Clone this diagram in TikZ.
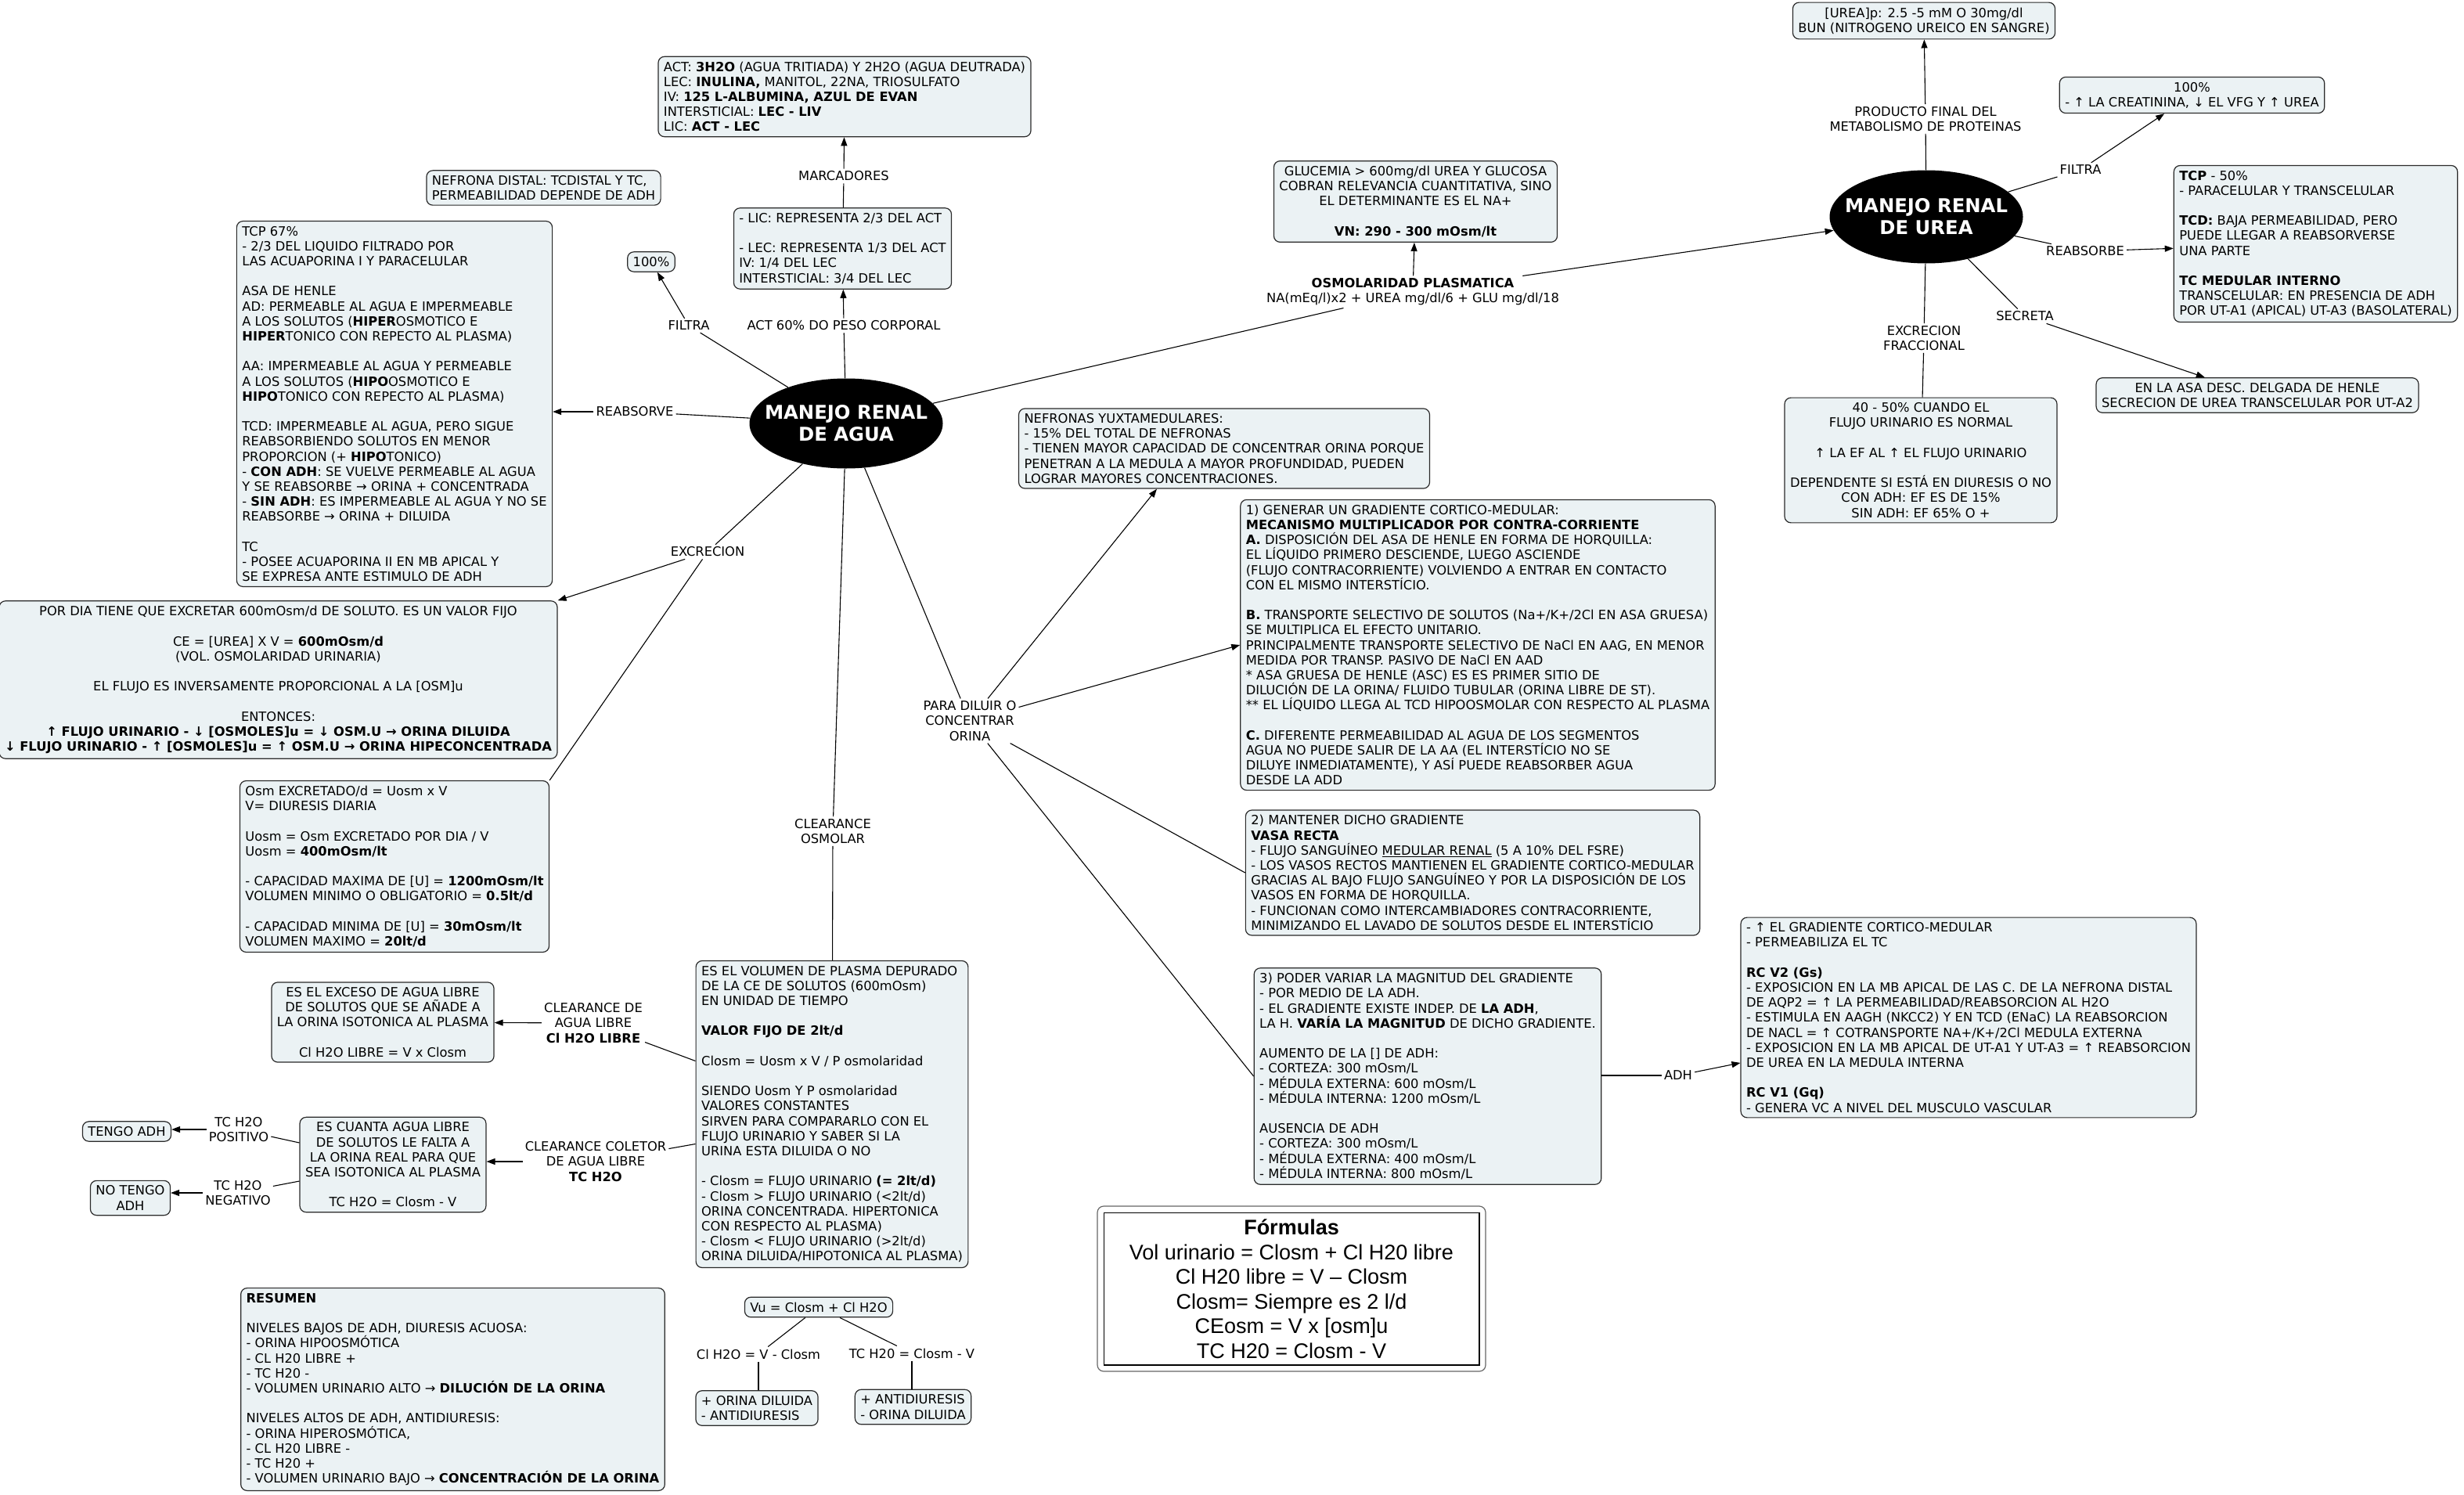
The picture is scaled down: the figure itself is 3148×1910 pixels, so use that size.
\documentclass[tikz,border=0pt]{standalone}
\usepackage{fontspec}
\setmainfont{DejaVu Sans}
\newfontfamily\arialf{Liberation Sans}
\usetikzlibrary{arrows.meta,shapes.geometric,calc}
\definecolor{boxfill}{HTML}{EBF2F4}
\definecolor{edgec}{HTML}{2A2A2A}
\newcommand\myfs{\fontsize{16.3}{19.2}\selectfont}
\newcommand\mybfs{\fontsize{24.3}{28}\selectfont\bfseries}
\tikzset{
 box/.style={draw=edgec, line width=1.2pt, rounded corners=8pt, fill=boxfill, inner xsep=7pt, inner ysep=6.5pt, font=\myfs},
 boxl/.style={box, align=left},
 boxc/.style={box, align=center},
 lab/.style={font=\myfs, align=center, inner sep=3pt},
 ln/.style={line width=1.1pt, draw=black},
 arr/.style={ln, -{Triangle[length=11pt,width=8pt]}},
 bubble/.style={ellipse, fill=black, minimum width=247pt, minimum height=115pt, inner sep=0pt},
 bubtext/.style={text=white, font=\mybfs, align=center, inner sep=0pt},
}
\begin{document}
\begin{tikzpicture}[x=1pt,y=-1pt]
\fill[white] (0,0) rectangle (3148,1910);
\useasboundingbox (0,0) rectangle (3148,1910);

% ---------- central nodes ----------
\node[bubble] (agua) at (1081,541) {};
\node[bubtext] (aguat) at (agua) {MANEJO RENAL\\DE AGUA};
\node[bubble, minimum height=119pt] (urea) at (2461,277) {};
\node[bubtext] (ureat) at (urea) {MANEJO RENAL\\DE UREA};

% ---------- left / top boxes ----------
\node[boxl] (act) at (1079,123.5) {ACT: \textbf{3H2O} (AGUA TRITIADA) Y 2H2O (AGUA DEUTRADA)\\
LEC: \textbf{INULINA,} MANITOL, 22NA, TRIOSULFATO\\
IV: \textbf{125 L-ALBUMINA, AZUL DE EVAN}\\
INTERSTICIAL: \textbf{LEC - LIV}\\
LIC: \textbf{ACT - LEC}};

\node[boxl] (lic) at (1076.5,317.5) {- LIC: REPRESENTA 2/3 DEL ACT\\~\\- LEC: REPRESENTA 1/3 DEL ACT\\IV: 1/4 DEL LEC\\INTERSTICIAL: 3/4 DEL LEC};

\node[boxl] (nefd) at (694.5,240) {NEFRONA DISTAL: TCDISTAL Y TC,\\PERMEABILIDAD DEPENDE DE ADH};

\node[boxc] (cien) at (832,334.5) {100\%};

\node[boxl] (tcp) at (504,516) {TCP 67\%\\
- 2/3 DEL LIQUIDO FILTRADO POR\\
LAS ACUAPORINA I Y PARACELULAR\\~\\
ASA DE HENLE\\
AD: PERMEABLE AL AGUA E IMPERMEABLE\\
A LOS SOLUTOS (\textbf{HIPER}OSMOTICO E\\
\textbf{HIPER}TONICO CON REPECTO AL PLASMA)\\~\\
AA: IMPERMEABLE AL AGUA Y PERMEABLE\\
A LOS SOLUTOS (\textbf{HIPO}OSMOTICO E\\
\textbf{HIPO}TONICO CON REPECTO AL PLASMA)\\~\\
TCD: IMPERMEABLE AL AGUA, PERO SIGUE\\
REABSORBIENDO SOLUTOS EN MENOR\\
PROPORCION (+ \textbf{HIPO}TONICO)\\
- \textbf{CON ADH}: SE VUELVE PERMEABLE AL AGUA\\
Y SE REABSORBE → ORINA + CONCENTRADA\\
- \textbf{SIN ADH}: ES IMPERMEABLE AL AGUA Y NO SE\\
REABSORBE → ORINA + DILUIDA\\~\\
TC\\
- POSEE ACUAPORINA II EN MB APICAL Y\\
SE EXPRESA ANTE ESTIMULO DE ADH};

\node[boxc] (pordia) at (355.5,868.5) {POR DIA TIENE QUE EXCRETAR 600mOsm/d DE SOLUTO. ES UN VALOR FIJO\\~\\
CE = [UREA] X V = \textbf{600mOsm/d}\\
(VOL. OSMOLARIDAD URINARIA)\\~\\
EL FLUJO ES INVERSAMENTE PROPORCIONAL A LA [OSM]u\\~\\
ENTONCES:\\
\textbf{↑ FLUJO URINARIO - ↓ [OSMOLES]u = ↓ OSM.U → ORINA DILUIDA}\\
\textbf{↓ FLUJO URINARIO - ↑ [OSMOLES]u = ↑ OSM.U → ORINA HIPECONCENTRADA}};

\node[boxl] (osm) at (504,1107) {Osm EXCRETADO/d = Uosm x V\\
V= DIURESIS DIARIA\\~\\
Uosm = Osm EXCRETADO POR DIA / V\\
Uosm = \textbf{400mOsm/lt}\\~\\
- CAPACIDAD MAXIMA DE [U] = \textbf{1200mOsm/lt}\\
VOLUMEN MINIMO O OBLIGATORIO = \textbf{0.5lt/d}\\~\\
- CAPACIDAD MINIMA DE [U] = \textbf{30mOsm/lt}\\
VOLUMEN MAXIMO = \textbf{20lt/d}};

\node[boxc] (exceso) at (489,1306) {ES EL EXCESO DE AGUA LIBRE\\
DE SOLUTOS QUE SE AÑADE A\\
LA ORINA ISOTONICA AL PLASMA\\~\\
Cl H2O LIBRE = V x Closm};

\node[boxc] (cuanta) at (502,1488) {ES CUANTA AGUA LIBRE\\
DE SOLUTOS LE FALTA A\\
LA ORINA REAL PARA QUE\\
SEA ISOTONICA AL PLASMA\\~\\
TC H2O = Closm - V};

\node[boxc] (tengo) at (162,1445.5) {TENGO ADH};
\node[boxc] (notengo) at (166.5,1530.5) {NO TENGO\\ADH};

\node[boxl] (volumen) at (1063,1423.5) {ES EL VOLUMEN DE PLASMA DEPURADO\\
DE LA CE DE SOLUTOS (600mOsm)\\
EN UNIDAD DE TIEMPO\\~\\
\textbf{VALOR FIJO DE 2lt/d}\\~\\
Closm = Uosm x V / P osmolaridad\\~\\
SIENDO Uosm Y P osmolaridad\\
VALORES CONSTANTES\\
SIRVEN PARA COMPARARLO CON EL\\
FLUJO URINARIO Y SABER SI LA\\
URINA ESTA DILUIDA O NO\\~\\
- Closm = FLUJO URINARIO \textbf{(= 2lt/d)}\\
- Closm > FLUJO URINARIO (<2lt/d)\\
ORINA CONCENTRADA. HIPERTONICA\\
CON RESPECTO AL PLASMA)\\
- Closm < FLUJO URINARIO (>2lt/d)\\
ORINA DILUIDA/HIPOTONICA AL PLASMA)};

\node[boxl] (resumen) at (578.5,1775) {\textbf{RESUMEN}\\~\\
NIVELES BAJOS DE ADH, DIURESIS ACUOSA:\\
- ORINA HIPOOSMÓTICA\\
- CL H20 LIBRE +\\
- TC H20 -\\
- VOLUMEN URINARIO ALTO → \textbf{DILUCIÓN DE LA ORINA}\\~\\
NIVELES ALTOS DE ADH, ANTIDIURESIS:\\
- ORINA HIPEROSMÓTICA,\\
- CL H20 LIBRE -\\
- TC H20 +\\
- VOLUMEN URINARIO BAJO → \textbf{CONCENTRACIÓN DE LA ORINA}};

\node[boxc] (vu) at (1046,1670) {Vu = Closm + Cl H2O};
\node[boxl] (dil) at (967,1799) {+ ORINA DILUIDA\\- ANTIDIURESIS};
\node[boxl] (anti) at (1166.5,1797.5) {+ ANTIDIURESIS\\- ORINA DILUIDA};

% formulas
\node[draw=black!60, line width=1.2pt, rounded corners=8pt, fill=white, minimum width=496pt, minimum height=211pt, inner sep=0pt] (form) at (1650,1646.5) {};
\draw[line width=1.8pt, black] ([shift={(9pt,9pt)}]form.south west) rectangle ([shift={(-9pt,-9pt)}]form.north east);
\node[align=center, font=\arialf\fontsize{27}{31.5}\selectfont, inner sep=0pt] (formt) at (form) {\textbf{Fórmulas}\\
Vol urinario = Closm + Cl H20 libre\\
Cl H20 libre = V – Closm\\
Closm= Siempre es 2 l/d\\
CEosm = V x [osm]u\\
TC H20 = Closm - V};

% ---------- middle boxes ----------
\node[boxl] (yuxta) at (1564,573) {NEFRONAS YUXTAMEDULARES:\\
- 15\% DEL TOTAL DE NEFRONAS\\
- TIENEN MAYOR CAPACIDAD DE CONCENTRAR ORINA PORQUE\\
PENETRAN A LA MEDULA A MAYOR PROFUNDIDAD, PUEDEN\\
LOGRAR MAYORES CONCENTRACIONES.};

\node[boxl] (generar) at (1888,824) {1) GENERAR UN GRADIENTE CORTICO-MEDULAR:\\
\textbf{MECANISMO MULTIPLICADOR POR CONTRA-CORRIENTE}\\
\textbf{A.} DISPOSICIÓN DEL ASA DE HENLE EN FORMA DE HORQUILLA:\\
EL LÍQUIDO PRIMERO DESCIENDE, LUEGO ASCIENDE\\
(FLUJO CONTRACORRIENTE) VOLVIENDO A ENTRAR EN CONTACTO\\
CON EL MISMO INTERSTÍCIO.\\~\\
\textbf{B.} TRANSPORTE SELECTIVO DE SOLUTOS (Na+/K+/2Cl EN ASA GRUESA)\\
SE MULTIPLICA EL EFECTO UNITARIO.\\
PRINCIPALMENTE TRANSPORTE SELECTIVO DE NaCl EN AAG, EN MENOR\\
MEDIDA POR TRANSP. PASIVO DE NaCl EN AAD\\
{}* ASA GRUESA DE HENLE (ASC) ES ES PRIMER SITIO DE\\
DILUCIÓN DE LA ORINA/ FLUIDO TUBULAR (ORINA LIBRE DE ST).\\
{}** EL LÍQUIDO LLEGA AL TCD HIPOOSMOLAR CON RESPECTO AL PLASMA\\~\\
\textbf{C.} DIFERENTE PERMEABILIDAD AL AGUA DE LOS SEGMENTOS\\
AGUA NO PUEDE SALIR DE LA AA (EL INTERSTÍCIO NO SE\\
DILUYE INMEDIATAMENTE), Y ASÍ PUEDE REABSORBER AGUA\\
DESDE LA ADD};

\node[boxl] (mantener) at (1881.5,1115) {2) MANTENER DICHO GRADIENTE\\
\textbf{VASA RECTA}\\
- FLUJO SANGUÍNEO \underline{MEDULAR RENAL} (5 A 10\% DEL FSRE)\\
- LOS VASOS RECTOS MANTIENEN EL GRADIENTE CORTICO-MEDULAR\\
GRACIAS AL BAJO FLUJO SANGUÍNEO Y POR LA DISPOSICIÓN DE LOS\\
VASOS EN FORMA DE HORQUILLA.\\
- FUNCIONAN COMO INTERCAMBIADORES CONTRACORRIENTE,\\
MINIMIZANDO EL LAVADO DE SOLUTOS DESDE EL INTERSTÍCIO};

\node[boxl] (poder) at (1824,1375) {3) PODER VARIAR LA MAGNITUD DEL GRADIENTE\\
- POR MEDIO DE LA ADH.\\
- EL GRADIENTE EXISTE INDEP. DE \textbf{LA ADH},\\
LA H. \textbf{VARÍA LA MAGNITUD} DE DICHO GRADIENTE.\\~\\
AUMENTO DE LA [] DE ADH:\\
- CORTEZA: 300 mOsm/L\\
- MÉDULA EXTERNA: 600 mOsm/L\\
- MÉDULA INTERNA: 1200 mOsm/L\\~\\
AUSENCIA DE ADH\\
- CORTEZA: 300 mOsm/L\\
- MÉDULA EXTERNA: 400 mOsm/L\\
- MÉDULA INTERNA: 800 mOsm/L};

\node[boxl] (adhbox) at (2515,1300) {- ↑ EL GRADIENTE CORTICO-MEDULAR\\
- PERMEABILIZA EL TC\\~\\
\textbf{RC V2 (Gs)}\\
- EXPOSICION EN LA MB APICAL DE LAS C. DE LA NEFRONA DISTAL\\
DE AQP2 = ↑ LA PERMEABILIDAD/REABSORCION AL H2O\\
- ESTIMULA EN AAGH (NKCC2) Y EN TCD (ENaC) LA REABSORCION\\
DE NACL = ↑ COTRANSPORTE NA+/K+/2Cl MEDULA EXTERNA\\
- EXPOSICION EN LA MB APICAL DE UT-A1 Y UT-A3 = ↑ REABSORCION\\
DE UREA EN LA MEDULA INTERNA\\~\\
\textbf{RC V1 (Gq)}\\
- GENERA VC A NIVEL DEL MUSCULO VASCULAR};

% ---------- right boxes ----------
\node[boxc] (gluc) at (1808.5,257.5) {GLUCEMIA > 600mg/dl UREA Y GLUCOSA\\
COBRAN RELEVANCIA CUANTITATIVA, SINO\\
EL DETERMINANTE ES EL NA+\\~\\
\textbf{VN: 290 - 300 mOsm/lt}};

\node[boxc] (ureap) at (2458,26.5) {[UREA]p: 2.5 -5 mM O 30mg/dl\\BUN (NITROGENO UREICO EN SANGRE)};

\node[boxc] (creat) at (2800.5,121.5) {100\%\\- ↑ LA CREATININA, ↓ EL VFG Y ↑ UREA};

\node[boxl] (tcpc) at (2958.5,311.5) {\textbf{TCP} - 50\%\\
- PARACELULAR Y TRANSCELULAR\\~\\
\textbf{TCD:} BAJA PERMEABILIDAD, PERO\\
PUEDE LLEGAR A REABSORVERSE\\
UNA PARTE\\~\\
\textbf{TC MEDULAR INTERNO}\\
TRANSCELULAR: EN PRESENCIA DE ADH\\
POR UT-A1 (APICAL) UT-A3 (BASOLATERAL)};

\node[boxc] (asa) at (2884,505) {EN LA ASA DESC. DELGADA DE HENLE\\SECRECION DE UREA TRANSCELULAR POR UT-A2};

\node[boxc] (efbox) at (2454,588) {40 - 50\% CUANDO EL\\
FLUJO URINARIO ES NORMAL\\~\\
↑ LA EF AL ↑ EL FLUJO URINARIO\\~\\
DEPENDENTE SI ESTÁ EN DIURESIS O NO\\
CON ADH: EF ES DE 15\%\\
SIN ADH: EF 65\% O +};

% ---------- labels ----------
\node[lab] (lfiltra) at (880,416) {FILTRA};
\node[lab] (lact) at (1078,416) {ACT 60\% DO PESO CORPORAL};
\node[lab] (lmarc) at (1078,225) {MARCADORES};
\node[lab] (lreab) at (811,526) {REABSORVE};
\node[lab] (lexc) at (904,705) {EXCRECION};
\node[lab] (lclos) at (1064,1062) {CLEARANCE\\OSMOLAR};
\node[lab] (lpd) at (1239,921) {PARA DILUIR O\\CONCENTRAR\\ORINA};
\node[lab] (lclh) at (758,1307) {CLEARANCE DE\\AGUA LIBRE\\\textbf{Cl H2O LIBRE}};
\node[lab] (ltcc) at (761,1484) {CLEARANCE COLETOR\\DE AGUA LIBRE\\\textbf{TC H2O}};
\node[lab] (ltcp) at (305,1443) {TC H2O\\POSITIVO};
\node[lab] (ltcn) at (304,1524) {TC H2O\\NEGATIVO};
\node[lab] (lcl) at (969,1730) {Cl H2O = V - Closm};
\node[lab] (ltc) at (1165,1729) {TC H20 = Closm - V};
\node[lab] (losm) at (1805,373) {\textbf{OSMOLARIDAD PLASMATICA}\\NA(mEq/l)x2 + UREA mg/dl/6 + GLU mg/dl/18};
\node[lab] (lprod) at (2460,152) {PRODUCTO FINAL DEL\\METABOLISMO DE PROTEINAS};
\node[lab] (lfil2) at (2658,217) {FILTRA};
\node[lab] (lreab2) at (2664,321) {REABSORBE};
\node[lab] (lsec) at (2587,404) {SECRETA};
\node[lab] (lef) at (2458,432) {EXCRECION\\FRACCIONAL};
\node[lab] (ladh) at (2144,1374) {ADH};

% ---------- connectors ----------
\draw[ln] (agua) -- (lact);
\draw[arr] (lact) -- (lic);
\draw[ln] (lic) -- (lmarc);
\draw[arr] (lmarc) -- (act);
\draw[ln] (agua) -- (lfiltra);
\draw[arr] (lfiltra) -- (cien);
\draw[ln] (agua) -- (lreab);
\draw[arr] (lreab) -- (tcp.east |- lreab);
\draw[ln] (agua) -- (lexc);
\draw[arr] (lexc) -- (pordia.north east);
\draw[ln] (lexc) -- (osm.north east);
\draw[ln] (agua) -- (lclos);
\draw[ln] (lclos) -- (volumen);
\draw[ln] (lclh) -- ([yshift=68pt]volumen.west);
\draw[arr] (lclh) -- (exceso);
\draw[ln] (ltcc) -- ([yshift=-38pt]volumen.west);
\draw[arr] (ltcc) -- (cuanta.east |- ltcc);
\draw[ln] (ltcp) -- ([yshift=28pt]cuanta.west);
\draw[arr] (ltcp) -- (tengo.east |- ltcp);
\draw[ln] (ltcn) -- ([yshift=-21pt]cuanta.west);
\draw[arr] (ltcn) -- (notengo.east |- ltcn);
\draw[ln] (vu) -- (lcl);
\draw[ln] (lcl) -- (lcl |- dil.north);
\draw[ln] (vu) -- (ltc);
\draw[ln] (ltc) -- (ltc |- anti.north);
\draw[ln] (agua) -- (lpd);
\draw[arr] (lpd) -- ([xshift=-86pt]yuxta.south);
\draw[arr] (lpd) -- (generar.west);
\draw[ln] (lpd) -- (mantener.west);
\draw[ln] (lpd) -- (poder.west);
\draw[ln] (poder.east |- ladh) -- (ladh);
\draw[arr] (ladh) -- (adhbox);
\draw[ln] (agua) -- (losm);
\draw[arr] (losm) -- (gluc);
\draw[arr] (losm) -- (urea);
\draw[ln] (urea) -- (lprod);
\draw[arr] (lprod) -- (ureap);
\draw[ln] (urea) -- (lfil2);
\draw[arr] (lfil2) -- (creat);
\draw[ln] (urea) -- (lreab2);
\draw[arr] (lreab2) -- (tcpc);
\draw[ln] (urea) -- (lsec);
\draw[arr] (lsec) -- (asa);
\draw[ln] (urea) -- (lef);
\draw[ln] (lef) -- (efbox);
\end{tikzpicture}
\end{document}
